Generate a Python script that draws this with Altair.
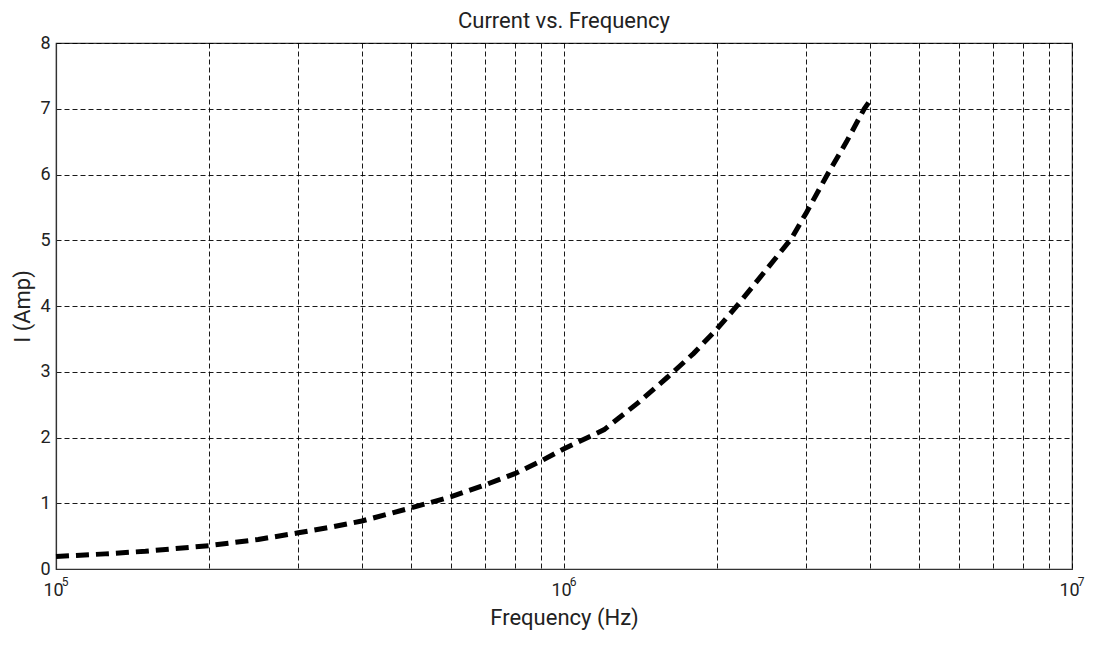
import altair as alt
import pandas as pd

# Frequency (Hz) and current (A)
freq = [1e5, 1.25e5, 1.5e5, 2e5, 2.5e5, 3e5, 3.5e5, 4e5, 5e5, 6e5, 7e5, 8e5, 9e5,
        1e6, 1.2e6, 1.4e6, 1.6e6, 1.8e6, 2e6, 2.2e6, 2.5e6, 2.8e6, 3e6, 3.3e6,
        3.6e6, 3.9e6, 4e6]
current = [0.19, 0.23, 0.27, 0.355, 0.45, 0.55, 0.64, 0.73, 0.93, 1.10, 1.28, 1.45, 1.64,
           1.83, 2.12, 2.53, 2.92, 3.28, 3.65, 4.02, 4.55, 5.02, 5.42, 6.0,
           6.5, 7.0, 7.12]

x_ticks = [k * 10 ** e for e in (5, 6) for k in range(1, 10)] + [1e7]
y_ticks = [0, 1, 2, 3, 4, 5, 6, 7, 8]
decades = [1e5, 1e6, 1e7]
exponents = ["5", "6", "7"]

df = pd.DataFrame({"f": freq, "i": current})
df_exp = pd.DataFrame({"f": decades, "e": exponents})

FONT = "Roboto"
W, H = 1016, 526

xscale = alt.Scale(type="log", domain=[1e5, 1e7], nice=False)

line = alt.Chart(df).mark_line(
    color="black", strokeWidth=5, strokeDash=[13, 7]
).encode(
    x=alt.X("f:Q", scale=xscale,
            axis=alt.Axis(values=x_ticks, title="Frequency (Hz)",
                          labelExpr="(datum.value == 100000 || datum.value == 1000000 || datum.value == 10000000) ? '10' : ''",
                          labelOverlap=False, labelFlush=False, labelOffset=-3,
                          labelPadding=12, titlePadding=8)),
    y=alt.Y("i:Q",
            scale=alt.Scale(domain=[0, 8], nice=False),
            axis=alt.Axis(values=y_ticks, title="I (Amp)", labelPadding=6,
                          titlePadding=5)),
)

exps = alt.Chart(df_exp).mark_text(
    font=FONT, fontSize=12, color="#222", dx=9, align="center", baseline="middle"
).encode(
    x=alt.X("f:Q", scale=xscale),
    y=alt.value(H + 13),
    text="e:N",
)

chart = alt.layer(line, exps).properties(
    width=W, height=H,
    title=alt.Title("Current vs. Frequency", fontSize=22, fontWeight="normal",
                    font=FONT, color="#222", offset=1),
    autosize=alt.AutoSizeParams(type="none"),
    padding={"left": 48, "top": 35, "right": 15, "bottom": 68},
).configure_view(
    stroke="#333", strokeWidth=1.2
).configure_axis(
    grid=True, gridColor="black", gridDash=[5, 3], gridWidth=1, gridOpacity=0.9,
    domainColor="#333", domainWidth=1.2, ticks=False,
    labelFont=FONT, labelFontSize=18, labelColor="#222",
    titleFont=FONT, titleFontSize=22, titleFontWeight="normal", titleColor="#222",
)

chart.save("out.html", embed_options={"renderer": "svg", "actions": False})
